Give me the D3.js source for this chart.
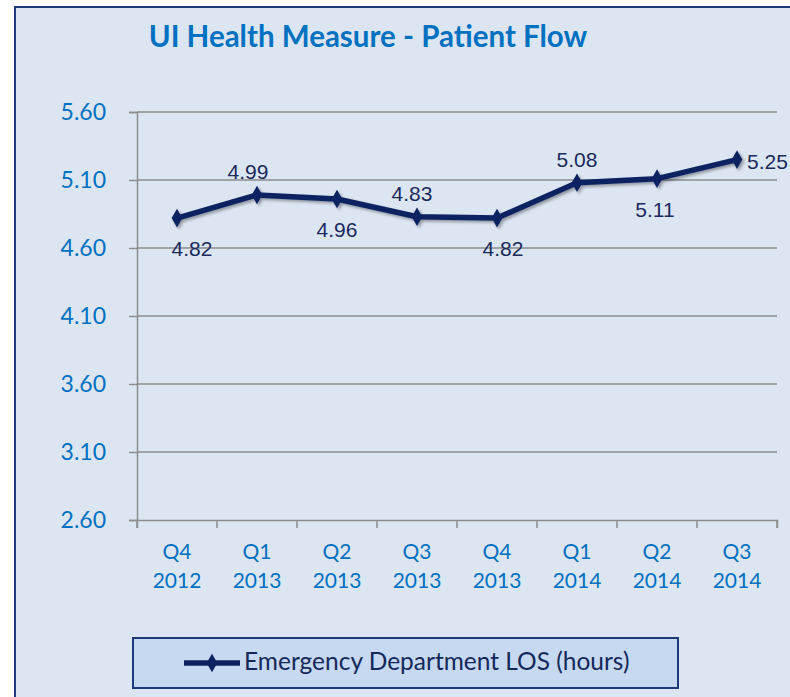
<!DOCTYPE html>
<html>
<head>
<meta charset="utf-8">
<script src="https://cdn.jsdelivr.net/npm/d3@7"></script>
<style>
  body { margin: 0; background: #fff; }
  svg { display: block; }
</style>
</head>
<body>
<div id="chart"></div>
<script>
const categories = ['Q4 2012', 'Q1 2013', 'Q2 2013', 'Q3 2013', 'Q4 2013', 'Q1 2014', 'Q2 2014', 'Q3 2014'];
const losValues = [4.82, 4.99, 4.96, 4.83, 4.82, 5.08, 5.11, 5.25];
const labelPlacement = ['below', 'above', 'below', 'above', 'below', 'above', 'below', 'right'];
const yTicks = [2.6, 3.1, 3.6, 4.1, 4.6, 5.1, 5.6];
const seriesName = 'Emergency Department LOS (hours)';

const width = 790, height = 697;
const margin = { top: 112, right: 13, bottom: 177, left: 137 };
const innerW = width - margin.left - margin.right;
const innerH = height - margin.top - margin.bottom;

const navy = '#0d2361';
const blue = '#0070c0';
const tickFont = 'Lato, "Open Sans", sans-serif';

const svg = d3.select('#chart').append('svg')
   .attr('width', width)
   .attr('height', height);

const defs = svg.append('defs');
const shadow = defs.append('filter').attr('id', 'shadow')
   .attr('x', '-10%').attr('y', '-50%').attr('width', '130%').attr('height', '200%');
shadow.append('feDropShadow')
   .attr('dx', 2).attr('dy', 2).attr('stdDeviation', 1.5)
   .attr('flood-color', '#000').attr('flood-opacity', 0.35);

// chart frame
svg.append('rect')
   .attr('x', 15).attr('y', 7)
   .attr('width', width).attr('height', height)
   .attr('fill', '#dce6f2')
   .attr('stroke', '#1f3a7a')
   .attr('stroke-width', 2);

svg.append('text')
   .attr('x', 368).attr('y', 47)
   .attr('text-anchor', 'middle')
   .attr('font-family', tickFont)
   .attr('font-weight', 'bold')
   .attr('font-size', 29.5)
   .attr('fill', blue)
   .text('UI Health Measure - Patient Flow');

const chart = svg.append('g').attr('transform', `translate(${margin.left},${margin.top})`);

const x = d3.scaleBand().domain(categories).range([0, innerW]);
const y = d3.scaleLinear().domain([2.6, 5.6]).range([innerH, 0]);

// gridlines
chart.append('g')
   .selectAll('line')
   .data(yTicks.slice(1))
   .join('line')
   .attr('x1', 0).attr('x2', innerW)
   .attr('y1', d => y(d)).attr('y2', d => y(d))
   .attr('stroke', '#8c8c8c')
   .attr('stroke-width', 1.5);

const yAxis = d3.axisLeft(y).tickValues(yTicks).tickFormat(d3.format('.2f')).tickSize(8).tickPadding(23);
const yAxisG = chart.append('g').call(yAxis);
yAxisG.selectAll('text')
   .attr('font-family', tickFont)
   .attr('font-size', 23)
   .attr('fill', blue);

const xAxis = d3.axisBottom(x).tickSize(8).tickFormat('');
const xAxisG = chart.append('g').attr('transform', `translate(0,${innerH})`).call(xAxis);
// ticks sit on the band edges, like the original
xAxisG.selectAll('.tick').remove();
xAxisG.selectAll('.edge')
   .data(d3.range(categories.length + 1))
   .join('line')
   .attr('class', 'edge')
   .attr('x1', i => i * x.bandwidth()).attr('x2', i => i * x.bandwidth())
   .attr('y1', 0).attr('y2', 8)
   .attr('stroke', '#8c8c8c').attr('stroke-width', 1.5);

[yAxisG, xAxisG].forEach(g => {
   g.select('.domain').attr('stroke', '#8c8c8c').attr('stroke-width', 1.5);
   g.selectAll('.tick line').attr('stroke', '#8c8c8c').attr('stroke-width', 1.5);
});

const xLabels = chart.append('g')
   .selectAll('text')
   .data(categories)
   .join('text')
   .attr('text-anchor', 'middle')
   .attr('font-family', tickFont)
   .attr('font-size', 21)
   .attr('fill', blue)
   .attr('transform', d => `translate(${x(d) + x.bandwidth() / 2},${innerH + 39})`);
xLabels.each(function (d) {
   const parts = d.split(' ');
   d3.select(this).selectAll('tspan')
      .data(parts)
      .join('tspan')
      .attr('x', 0)
      .attr('dy', (p, i) => (i === 0 ? 0 : 29))
      .text(p => p);
});

const cx = d => x(d) + x.bandwidth() / 2;
const line = d3.line().x((v, i) => cx(categories[i])).y(v => y(v));

const series = chart.append('g').attr('filter', 'url(#shadow)');
series.append('path')
   .datum(losValues)
   .attr('d', line)
   .attr('fill', 'none')
   .attr('stroke', navy)
   .attr('stroke-width', 5.5)
   .attr('stroke-linejoin', 'round');

const diamond = d3.symbol().type(d3.symbolDiamond).size(100);
series.selectAll('.marker')
   .data(losValues)
   .join('path')
   .attr('class', 'marker')
   .attr('d', diamond)
   .attr('transform', (v, i) => `translate(${cx(categories[i])},${y(v)})`)
   .attr('fill', navy);

// small horizontal nudges of the data labels, as Excel placed them
const labelNudge = [15, -9, 0, -5, 6, 0, -2, 10];
chart.append('g')
   .selectAll('text')
   .data(losValues)
   .join('text')
   .attr('font-family', '"Liberation Sans", Arial, sans-serif')
   .attr('font-size', 21)
   .attr('fill', '#1b2a5c')
   .attr('text-anchor', (v, i) => (labelPlacement[i] === 'right' ? 'start' : 'middle'))
   .attr('x', (v, i) => cx(categories[i]) + labelNudge[i])
   .attr('y', (v, i) => {
      const p = labelPlacement[i];
      if (p === 'above') return y(v) - 16;
      if (p === 'below') return y(v) + 38;
      return y(v) + 9;
   })
   .text(v => d3.format('.2f')(v));

// legend
const legend = svg.append('g').attr('transform', 'translate(133,638)');
legend.append('rect')
   .attr('width', 545).attr('height', 50)
   .attr('fill', '#c6d9f1')
   .attr('stroke', '#1f3a7a')
   .attr('stroke-width', 2);
legend.append('line')
   .attr('x1', 51).attr('x2', 107)
   .attr('y1', 25).attr('y2', 25)
   .attr('stroke', navy).attr('stroke-width', 5.5);
legend.append('path')
   .attr('d', diamond)
   .attr('transform', 'translate(79,25)')
   .attr('fill', navy);
legend.append('text')
   .attr('x', 111).attr('y', 32)
   .attr('font-family', tickFont)
   .attr('font-size', 24.5)
   .attr('fill', '#14285a')
   .text(seriesName);
</script>
</body>
</html>
